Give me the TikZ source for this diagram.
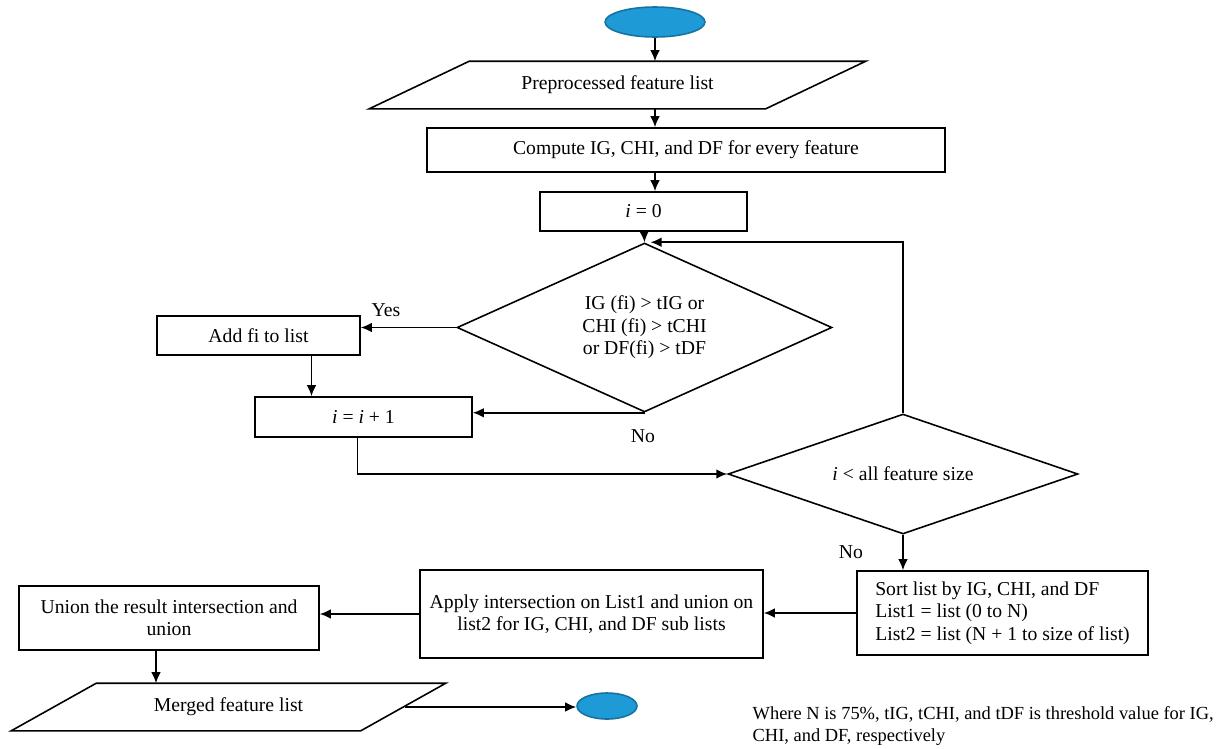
\documentclass[tikz,border=0pt]{standalone}
\usepackage{fontspec}
\setmainfont{Liberation Serif}
\usetikzlibrary{shapes.geometric,calc,arrows.meta}
\definecolor{termblue}{RGB}{30,154,214}

\begin{document}
\begin{tikzpicture}[x=0.02cm,y=-0.02cm,line width=0.9pt,
        font=\fontsize{11.2}{12.8}\selectfont,
        box/.style={draw,rectangle,align=center,inner sep=2pt},
        io/.style={rectangle,align=center,inner sep=0pt},
        term/.style={draw=termblue!75!black,fill=termblue,ellipse,inner sep=0pt},
        cond/.style={draw,diamond,align=center,inner sep=0pt,aspect=2},
        arr/.style={-{Latex[length=2.2mm,width=1.9mm]}}]
        \useasboundingbox (0,0) rectangle (1220,748);
        % Nodes of the chart.
            \node[term,minimum width=2cm,minimum height=0.6cm] (start) at (655,22) {};
            \node[io,minimum width=5.9cm,minimum height=0.92cm] (pre) at (617.5,85) {Preprocessed feature list};
            \node[box,minimum width=10.36cm,minimum height=0.88cm] (compute) at (686,150) {Compute IG, CHI, and DF for every feature};
            \node[box,minimum width=4.14cm,minimum height=0.78cm] (init) at (643.5,211.5) {\textit{i} = 0};
            \node[cond,minimum width=7.5cm,minimum height=3.38cm] (test) at (644.5,327.5) {IG (fi) > tIG or\\CHI (fi) > tCHI\\or DF(fi) > tDF};
            \node[box,minimum width=4.06cm,minimum height=0.78cm] (add) at (258.5,335.5) {Add fi to list};
            \node[box,minimum width=4.34cm,minimum height=0.8cm] (incr) at (363.5,417) {\textit{i} = \textit{i} + 1};
            \node[cond,minimum width=7cm,minimum height=2.4cm] (loop) at (903,474) {\textit{i} < all feature size};
            \node[box,align=left,minimum width=5.82cm,minimum height=1.68cm] (sort) at (1002.5,613) {Sort list by IG, CHI, and DF\\List1 = list (0 to N)\\List2 = list (N + 1 to size of list)};
            \node[box,minimum width=6.86cm,minimum height=1.76cm] (apply) at (591.5,614) {Apply intersection on List1 and union on\\list2 for IG, CHI, and DF sub lists};
            \node[box,minimum width=6cm,minimum height=1.28cm] (union) at (169,618) {Union the result intersection and\\union};
            \node[io,minimum width=5.26cm,minimum height=0.92cm] (merged) at (228.5,707) {Merged feature list};
            \node[term,minimum width=1.2cm,minimum height=0.52cm] (stop) at (607,706) {};
        % The two parallelograms.
            \draw (pre.north west) -- ($(pre.north east)+(100,0)$) -- (pre.south east) -- ($(pre.south west)+(-100,0)$) -- cycle;
            \draw (merged.north west) -- ($(merged.north east)+(85,0)$) -- (merged.south east) -- ($(merged.south west)+(-85,0)$) -- cycle;
        % Free ends of some connectors.
            \coordinate (addout) at ($(add.south)+(53,0)$);
            \coordinate (incrout) at ($(incr.south)+(-6,0)$);
            \coordinate (unionout) at ($(union.south)+(-13,0)$);
            \coordinate (mergedout) at ($(merged.east)+(44,0)$);
            \coordinate (loopin) at ($(test.north)+(6,0)$);
        % Connectors.
            \draw[arr] (start) -- (start |- pre.north);
            \draw[arr] (start |- pre.south) -- (start |- compute.north);
            \draw[arr] (start |- compute.south) -- (start |- init.north);
            \draw[arr] (init) -- (test.north);
            \draw[arr] (loop.north) |- (loopin);
            \draw[arr] (test.west) -- (test.west -| add.east);
            \draw[arr] (addout) -- (addout |- incr.north);
            \draw[arr] (test.south) -- (test.south -| incr.east);
            \draw[arr] (incrout) |- (loop.west);
            \draw[arr] (loop.south) -- (loop.south |- sort.north);
            \draw[arr] (sort.west) -- (sort.west -| apply.east);
            \draw[arr] (apply.west) -- (apply.west -| union.east);
            \draw[arr] (unionout) -- (unionout |- merged.north);
            \draw[arr] (mergedout) -- (mergedout -| stop.west);
        % Below nodes are the labels.
            \node (yes) at (386,310) {Yes};
            \node (no1) at (643,436) {No};
            \node (no2) at (851,552) {No};
            \node[anchor=west,align=left,font=\fontsize{10.5}{12.4}\selectfont] (note) at (746,726) {Where N is 75\%, tIG, tCHI, and tDF is threshold value for IG,\\CHI, and DF, respectively};
\end{tikzpicture}
\end{document}
